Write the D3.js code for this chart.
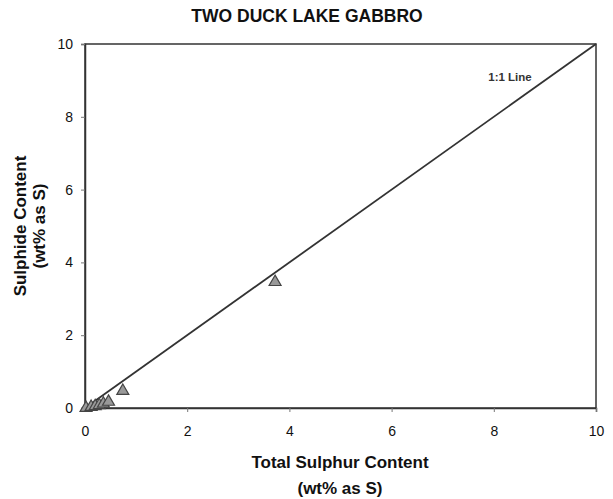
<!DOCTYPE html>
<html><head><meta charset="utf-8">
<script src="https://cdn.jsdelivr.net/npm/d3@7"></script>
<style>body{margin:0;background:#fff;} text{font-family:Arial,"Liberation Sans",sans-serif;}</style>
</head><body>
<svg id="c" width="613" height="499"></svg>
<script>
const totalS = [0.02, 0.12, 0.2, 0.28, 0.36, 0.46, 0.74, 3.72];
const sulphide = [0.0, 0.03, 0.05, 0.08, 0.12, 0.17, 0.47, 3.46];
const xTicks = [0, 2, 4, 6, 8, 10];
const yTicks = [0, 2, 4, 6, 8, 10];
const lineData = [0, 10];

const svg = d3.select("#c");
const L = 85, R = 596, T = 44, B = 408;
const x = d3.scaleLinear().domain([0, 10]).range([L, R]);
const y = d3.scaleLinear().domain([0, 10]).range([B, T]);

svg.append("text").attr("x", 307).attr("y", 22).attr("text-anchor", "middle")
  .attr("font-size", 17.5).attr("font-weight", "bold").attr("fill", "#111").text("TWO DUCK LAKE GABBRO");

// frame
svg.append("rect").attr("x", L).attr("y", T).attr("width", R - L).attr("height", B - T)
  .attr("fill", "none").attr("stroke", "#333").attr("stroke-width", 1.5);

const xa = svg.append("g").attr("transform", `translate(0,${B})`)
  .call(d3.axisBottom(x).tickValues(xTicks).tickSize(4).tickPadding(14).tickFormat(d3.format("d")));
const ya = svg.append("g").attr("transform", `translate(${L},0)`)
  .call(d3.axisLeft(y).tickValues(yTicks).tickSize(4).tickPadding(8).tickFormat(d3.format("d")));
[xa, ya].forEach(a => {
  a.select(".domain").attr("stroke", "#333").attr("stroke-width", 1.5);
  a.selectAll(".tick line").attr("stroke", "#777");
  a.selectAll("text").attr("font-size", 14).attr("fill", "#111")
    .style("font-family", "Arial, 'Liberation Sans', sans-serif");
});

// 1:1 line
svg.append("line").attr("x1", x(lineData[0])).attr("y1", y(lineData[0]))
  .attr("x2", x(lineData[1])).attr("y2", y(lineData[1]))
  .attr("stroke", "#333").attr("stroke-width", 1.8);
svg.append("text").attr("x", 510).attr("y", 81).attr("text-anchor", "middle")
  .attr("font-size", 11.5).attr("font-weight", "bold").attr("fill", "#333").text("1:1 Line");

// points
const sym = d3.symbol().type(d3.symbolTriangle).size(62);
svg.append("g").selectAll("path").data(totalS.map((v, i) => [v, sulphide[i]])).join("path")
  .attr("transform", d => `translate(${x(d[0])},${y(d[1])})`)
  .attr("d", sym).attr("fill", "#999").attr("stroke", "#444").attr("stroke-width", 1.2);

// axis titles
svg.append("text").attr("x", 340).attr("y", 468).attr("text-anchor", "middle")
  .attr("font-size", 17).attr("font-weight", "bold").attr("fill", "#111").text("Total Sulphur Content");
svg.append("text").attr("x", 340).attr("y", 494).attr("text-anchor", "middle")
  .attr("font-size", 17).attr("font-weight", "bold").attr("fill", "#111").text("(wt% as S)");
svg.append("text").attr("transform", "translate(26,226) rotate(-90)").attr("text-anchor", "middle")
  .attr("font-size", 17).attr("font-weight", "bold").attr("fill", "#111").text("Sulphide Content");
svg.append("text").attr("transform", "translate(45,226) rotate(-90)").attr("text-anchor", "middle")
  .attr("font-size", 17).attr("font-weight", "bold").attr("fill", "#111").text("(wt% as S)");
</script>
</body></html>
